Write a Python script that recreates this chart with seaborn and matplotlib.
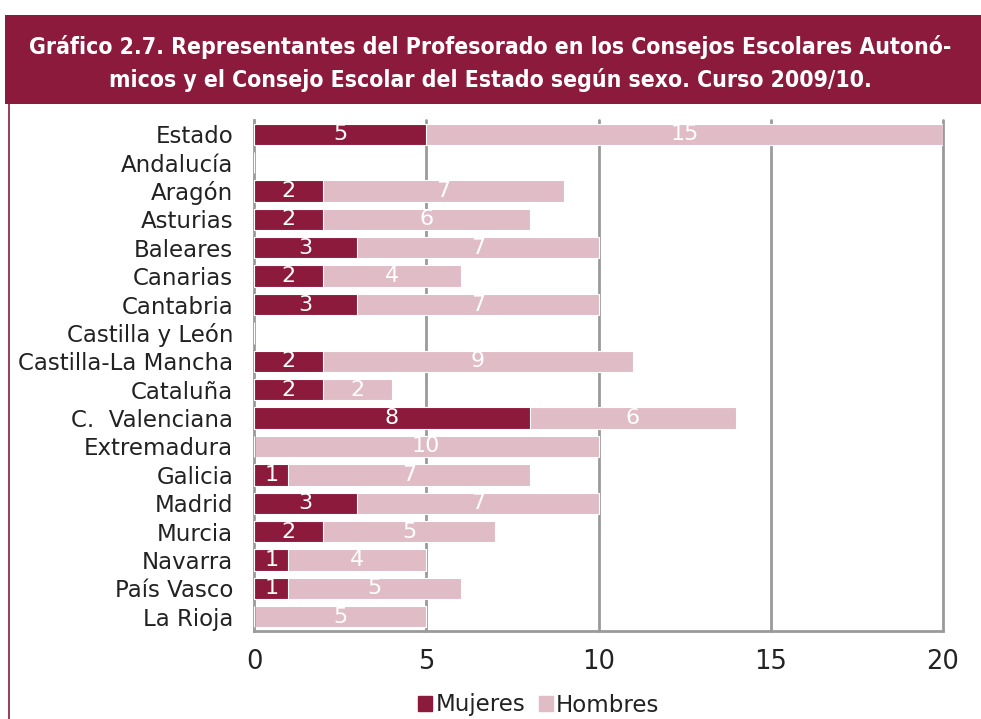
import numpy as np
import pandas as pd
import matplotlib
matplotlib.use('Agg')
import matplotlib.pyplot as plt
import seaborn as sns
from matplotlib.patches import Rectangle, Patch
from matplotlib.lines import Line2D

# Data
regiones = ['Estado', 'Andalucía', 'Aragón', 'Asturias', 'Baleares', 'Canarias',
            'Cantabria', 'Castilla y León', 'Castilla-La Mancha', 'Cataluña',
            'C.  Valenciana', 'Extremadura', 'Galicia', 'Madrid', 'Murcia',
            'Navarra', 'País Vasco', 'La Rioja']
mujeres = [5, 0, 2, 2, 3, 2, 3, 0, 2, 2, 8, 0, 1, 3, 2, 1, 1, 0]
hombres = [15, 0, 7, 6, 7, 4, 7, 0, 9, 2, 6, 10, 7, 7, 5, 4, 5, 5]
xticks = [0, 5, 10, 15, 20]

C_MUJ = '#8C1A3D'
C_HOM = '#DFBCC6'
GRID = '#9a9a9a'

df = pd.DataFrame({'Region': regiones, 'Mujeres': mujeres, 'Hombres': hombres})
df['Total'] = df['Mujeres'] + df['Hombres']

sns.set_style('white')
plt.rcParams['font.family'] = ['DejaVu Sans']

fig = plt.figure(figsize=(9.81, 7.19), dpi=100)
ax = fig.add_axes([254 / 981, 1 - 631 / 719, 689 / 981, 511 / 719])

# gridlines first
for x in xticks[1:]:
    ax.axvline(x, color=GRID, lw=2, zorder=0, clip_on=False)

sns.barplot(data=df, y='Region', x='Total', color=C_HOM, orient='h',
            width=0.75, ax=ax, saturation=1, zorder=2, edgecolor='white', linewidth=0.8)
sns.barplot(data=df, y='Region', x='Mujeres', color=C_MUJ, orient='h',
            width=0.75, ax=ax, saturation=1, zorder=3, edgecolor='white', linewidth=0.8)

for i, (m, h) in enumerate(zip(mujeres, hombres)):
    if m > 0:
        ax.text(m / 2, i, str(m), color='white', ha='center', va='center',
                fontsize=16, zorder=4)
    if h > 0:
        ax.text(m + h / 2, i, str(h), color='white', ha='center', va='center',
                fontsize=16, zorder=4)

ax.set_xlim(0, 20)
ax.set_ylim(len(regiones) - 0.5, -0.5)
ax.set_xticks(xticks)
ax.set_xlabel('')
ax.set_ylabel('')
ax.tick_params(axis='x', labelsize=18.5, colors='#222222', length=6, width=2,
               color=GRID, pad=7)
ax.tick_params(axis='y', labelsize=16.5, colors='#222222', length=0, pad=15)
ax.set_yticks(np.arange(len(regiones) + 1) - 0.5, minor=True)
ax.tick_params(axis='y', which='minor', length=6, width=2, color=GRID)
for s in ['top', 'right']:
    ax.spines[s].set_visible(False)
for s in ['left', 'bottom']:
    ax.spines[s].set_color(GRID)
    ax.spines[s].set_linewidth(2)

# title box
fig.patches.append(Rectangle((5 / 981, 1 - 104 / 719), 976 / 981, 89 / 719,
                             transform=fig.transFigure, facecolor='#8B1A3C',
                             edgecolor='none'))
fig.add_artist(Line2D([9 / 981, 9 / 981], [0, 1 - 104 / 719], transform=fig.transFigure,
                      color='#8B1A3C', lw=1.2))
fig.text(0.5, 1 - 47 / 719,
         'Gráfico 2.7. Representantes del Profesorado en los Consejos Escolares Autonó-',
         ha='center', va='center', color='white', fontsize=16.5, fontweight='bold',
         fontstretch='condensed', family=['DejaVu Sans'])
fig.text(0.5, 1 - 80 / 719,
         'micos y el Consejo Escolar del Estado según sexo. Curso 2009/10.',
         ha='center', va='center', color='white', fontsize=16.5, fontweight='bold',
         fontstretch='condensed', family=['DejaVu Sans'])

handles = [Patch(color=C_MUJ, label='Mujeres'), Patch(color=C_HOM, label='Hombres')]
fig.legend(handles=handles, loc='center', bbox_to_anchor=(539 / 981, 1 - 705 / 719),
           ncol=2, frameon=False, fontsize=16.5, handlelength=0.6, handleheight=0.6,
           handletextpad=0.15, columnspacing=0.6, labelcolor='#222222')

fig.savefig('out.png', dpi=100)
